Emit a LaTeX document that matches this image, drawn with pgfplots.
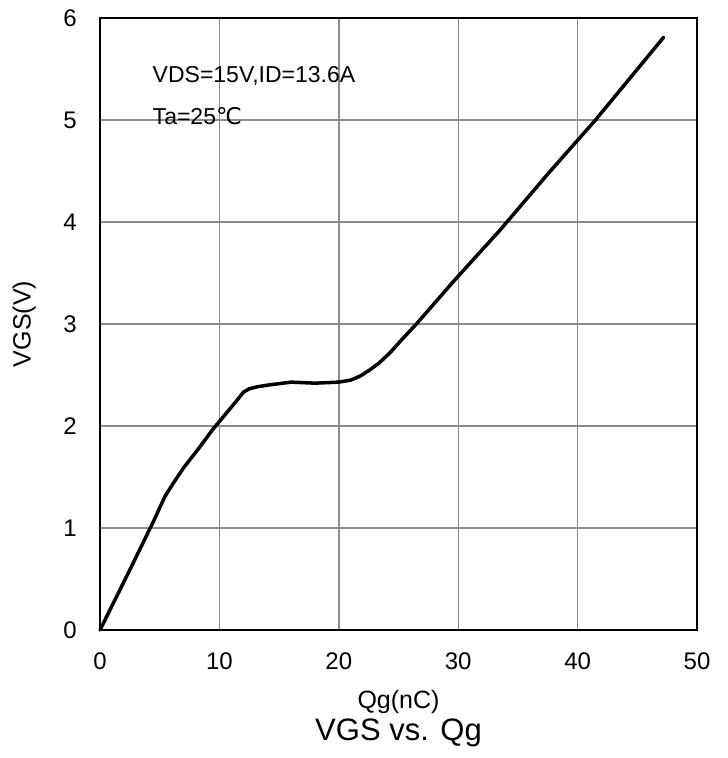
\documentclass[border=0pt]{standalone}
\usepackage{fontspec}
\setmainfont{Liberation Sans}
\newfontfamily\symbolfont{DejaVu Sans}
\usepackage{pgfplots}
\pgfplotsset{compat=1.18}
\definecolor{gridgray}{RGB}{140,140,140}
\begin{document}
\begin{tikzpicture}
\begin{axis}[
  scale only axis,
  width=597pt, height=612pt,
  xmin=0, xmax=50, ymin=0, ymax=6,
  xtick={0,10,...,50}, ytick={0,1,...,6},
  grid=major,
  major grid style={draw=gridgray, line width=1.4pt},
  axis line style={line width=1.6pt},
  tick style={draw=none},
  /pgf/number format/assume math mode=true,
  tick label style={font=\fontsize{24}{28}\selectfont, inner sep=0pt},
  xticklabel shift=23pt,
  yticklabel shift=23pt,
  xlabel={Qg(nC)},
  ylabel={VGS(V)},
  title={VGS vs. Qg},
  label style={font=\fontsize{25}{29}\selectfont},
  xlabel style={at={(axis description cs:0.5,-0.118)}, anchor=center},
  ylabel style={at={(axis description cs:-0.127,0.5)}, anchor=center},
  title style={at={(axis description cs:0.5,-0.178)}, anchor=center,
               font=\fontsize{31}{35}\selectfont},
  clip=false,
]
% gate charge curve: linear rise, Miller plateau, second rise
\addplot[black, line width=3.5pt, line join=round, line cap=round] coordinates {
  (0,0) (2.5,0.59) (4.5,1.07) (5.44,1.31) (6.2,1.45) (7.0,1.59)
  (8.4,1.80) (9.4,1.96) (10.75,2.15) (11.6,2.27) (12.0,2.33)
  (12.5,2.365) (13.2,2.385) (14,2.40) (16,2.43) (18,2.42) (20,2.43)
  (21,2.45) (21.8,2.49) (22.6,2.55) (23.4,2.62) (24.3,2.72) (25.3,2.85)
  (26.5,3.0) (29.7,3.43) (33.5,3.92) (37.5,4.47) (41.5,5.0) (47.2,5.81)
};
\node[anchor=west, font=\fontsize{23}{27}\selectfont, inner sep=0pt]
  at (axis cs:4.4,5.43) {VDS=15V,ID=13.6A};
\node[anchor=west, font=\fontsize{23}{27}\selectfont, inner sep=0pt]
  at (axis cs:4.4,5.04) {Ta=25{\symbolfont ℃}};
\end{axis}
\pgfresetboundingbox
\path[use as bounding box]
  ([xshift=-100pt,yshift=-128pt]current axis.south west)
  rectangle ([xshift=30pt,yshift=18pt]current axis.north east);
\end{tikzpicture}
\end{document}
